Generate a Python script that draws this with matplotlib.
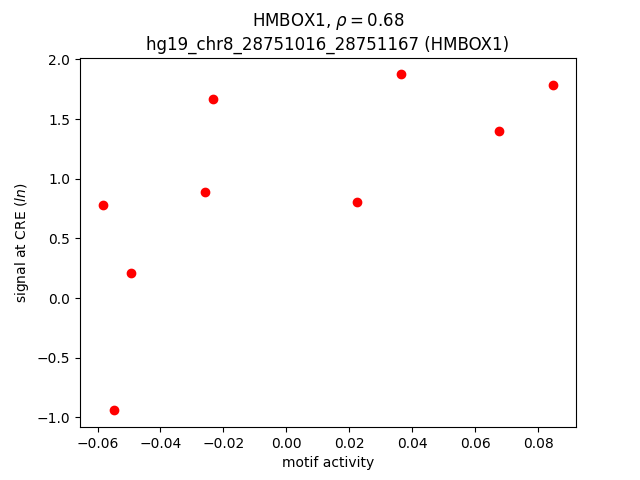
import matplotlib
matplotlib.use("Agg")
import matplotlib.pyplot as plt

motif_activity = [-0.0584, -0.0549, -0.0495, -0.0260, -0.0234, 0.0224, 0.0364, 0.0676, 0.0848]
signal = [0.777, -0.941, 0.207, 0.885, 1.665, 0.802, 1.874, 1.397, 1.782]

fig, ax = plt.subplots(figsize=(6.4, 4.8), dpi=100)
ax.scatter(motif_activity, signal, color="red")
ax.set_xlabel("motif activity")
ax.set_ylabel("signal at CRE ($ln$)")
ax.set_title("HMBOX1, $\\rho = 0.68$\nhg19_chr8_28751016_28751167 (HMBOX1)")
fig.savefig("out.png")
